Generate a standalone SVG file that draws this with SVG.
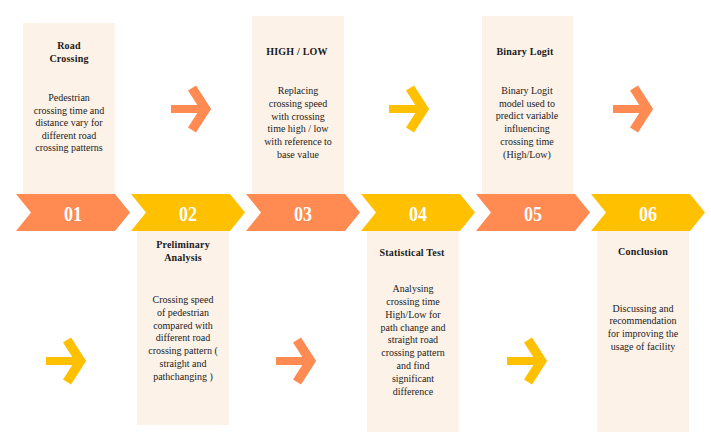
<svg xmlns="http://www.w3.org/2000/svg" xmlns:xlink="http://www.w3.org/1999/xlink" width="711" height="444" viewBox="0 0 711 444">
<style>
.panel{fill:#FDF2E8}
.or{fill:#FF8B52}
.ye{fill:#FFC000}
text{font-family:"Liberation Serif","Times New Roman",Times,serif}
.num{font-weight:bold;font-size:21px;fill:#FFFFFF;text-anchor:middle}
.ttl{font-weight:bold;font-size:10px;fill:#1a1a1a;text-anchor:middle;letter-spacing:0.2px}
.body{font-size:10px;fill:#222222;text-anchor:middle}
</style>
<defs>
<g id="arrow" fill="none" stroke-linejoin="miter" stroke-miterlimit="10">
<path d="M0,0 H35" stroke-width="8"/>
<path d="M21,-21 L34.5,0 L21,21" stroke-width="9.5"/>
</g>
<polygon id="chev" points="0,194 99,194 114,212.5 99,231 0,231 15,212.5"/>
</defs>
<rect width="711" height="444" fill="#FFFFFF"/>

<g id="node-01">
<rect class="panel" x="23" y="23" width="92" height="171"/>
<text class="ttl" x="69" y="49">Road</text>
<text class="ttl" x="69" y="62">Crossing</text>
<text class="body" x="69" y="101">Pedestrian</text>
<text class="body" x="69" y="114">crossing time and</text>
<text class="body" x="69" y="126">distance vary for</text>
<text class="body" x="69" y="139">different road</text>
<text class="body" x="69" y="151">crossing patterns</text>
<use xlink:href="#chev" class="or" transform="translate(16,0)"/>
<text class="num" x="73" y="221" textLength="18" lengthAdjust="spacingAndGlyphs">01</text>
</g>

<g id="node-02">
<rect class="panel" x="137" y="231" width="92" height="194"/>
<text class="ttl" x="183" y="248">Preliminary</text>
<text class="ttl" x="183" y="261">Analysis</text>
<text class="body" x="183" y="303">Crossing speed</text>
<text class="body" x="183" y="316">of pedestrian</text>
<text class="body" x="183" y="329">compared with</text>
<text class="body" x="183" y="341">different road</text>
<text class="body" x="183" y="354">crossing pattern (</text>
<text class="body" x="183" y="367">straight and</text>
<text class="body" x="183" y="380">pathchanging )</text>
<use xlink:href="#chev" class="ye" transform="translate(131,0)"/>
<text class="num" x="188" y="221" textLength="18" lengthAdjust="spacingAndGlyphs">02</text>
</g>

<g id="node-03">
<rect class="panel" x="252" y="16" width="92" height="178"/>
<text class="ttl" x="297" y="55">HIGH / LOW</text>
<text class="body" x="298" y="94">Replacing</text>
<text class="body" x="298" y="107">crossing speed</text>
<text class="body" x="298" y="120">with crossing</text>
<text class="body" x="298" y="132">time high / low</text>
<text class="body" x="298" y="145">with reference to</text>
<text class="body" x="298" y="158">base value</text>
<use xlink:href="#chev" class="or" transform="translate(246,0)"/>
<text class="num" x="303" y="221" textLength="18" lengthAdjust="spacingAndGlyphs">03</text>
</g>

<g id="node-04">
<rect class="panel" x="367" y="231" width="92" height="201"/>
<text class="ttl" x="412" y="256">Statistical Test</text>
<text class="body" x="413" y="292">Analysing</text>
<text class="body" x="413" y="305">crossing time</text>
<text class="body" x="413" y="318">High/Low for</text>
<text class="body" x="413" y="331">path change and</text>
<text class="body" x="413" y="343">straight road</text>
<text class="body" x="413" y="356">crossing pattern</text>
<text class="body" x="413" y="369">and find</text>
<text class="body" x="413" y="382">significant</text>
<text class="body" x="413" y="395">difference</text>
<use xlink:href="#chev" class="ye" transform="translate(361,0)"/>
<text class="num" x="418" y="221" textLength="18" lengthAdjust="spacingAndGlyphs">04</text>
</g>

<g id="node-05">
<rect class="panel" x="482" y="16" width="91" height="178"/>
<text class="ttl" x="525" y="55">Binary Logit</text>
<text class="body" x="527" y="94">Binary Logit</text>
<text class="body" x="527" y="107">model used to</text>
<text class="body" x="527" y="119">predict variable</text>
<text class="body" x="527" y="132">influencing</text>
<text class="body" x="527" y="145">crossing time</text>
<text class="body" x="527" y="158">(High/Low)</text>
<use xlink:href="#chev" class="or" transform="translate(476,0)"/>
<text class="num" x="533" y="221" textLength="18" lengthAdjust="spacingAndGlyphs">05</text>
</g>

<g id="node-06">
<rect class="panel" x="597" y="231" width="92" height="201"/>
<text class="ttl" x="643" y="255">Conclusion</text>
<text class="body" x="643" y="312">Discussing and</text>
<text class="body" x="643" y="324">recommendation</text>
<text class="body" x="643" y="337">for improving the</text>
<text class="body" x="643" y="350">usage of facility</text>
<use xlink:href="#chev" class="ye" transform="translate(591,0)"/>
<text class="num" x="648" y="221" textLength="18" lengthAdjust="spacingAndGlyphs">06</text>
</g>

<g id="connectors">
<use xlink:href="#arrow" transform="translate(171,109)" stroke="#FF8B52"/>
<use xlink:href="#arrow" transform="translate(389,109)" stroke="#FFC000"/>
<use xlink:href="#arrow" transform="translate(613,109)" stroke="#FF8B52"/>
<use xlink:href="#arrow" transform="translate(46,361)" stroke="#FFC000"/>
<use xlink:href="#arrow" transform="translate(276,361)" stroke="#FF8B52"/>
<use xlink:href="#arrow" transform="translate(507,361)" stroke="#FFC000"/>
</g>
</svg>
